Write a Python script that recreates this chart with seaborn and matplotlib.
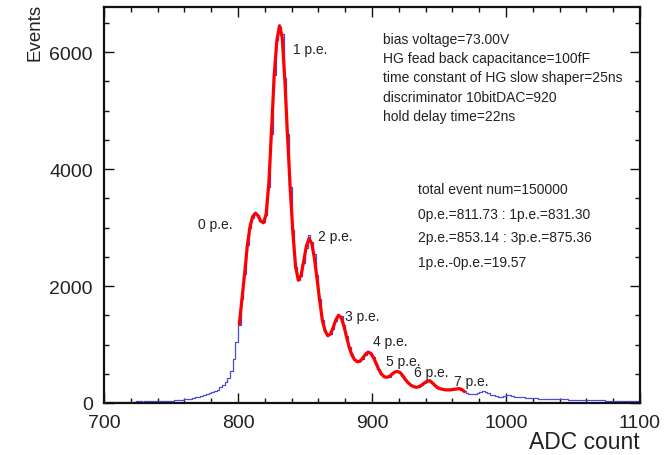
import numpy as np
import pandas as pd
import matplotlib
matplotlib.use("Agg")
import matplotlib.pyplot as plt
from matplotlib.ticker import MultipleLocator
import seaborn as sns

# ---------------- data ----------------
bin_edges = list(range(700, 1101, 2))
bin_centers = [e + 1 for e in bin_edges[:-1]]
counts = [
    18, 20, 17, 22, 19, 21, 20, 23, 22, 25,           # 701-719
    24, 22, 26, 27, 25, 28, 30, 29, 32, 31,           # 721-739
    33, 35, 38, 36, 40, 42, 45, 48, 52, 56,           # 741-759
    62, 68, 76, 85, 96, 108, 120, 135, 150, 170,      # 761-779
    190, 205, 225, 265, 300, 365, 430, 540, 760, 1050,  # 781-799
    1330, 1780, 2200, 2700, 3000, 3170, 3240, 3210, 3120, 3090,  # 801-819
    3220, 3700, 4600, 5600, 6200, 6430, 6300, 5550, 4600, 3700,  # 821-839
    2950, 2330, 2110, 2170, 2400, 2650, 2870, 2760, 2550, 2180,  # 841-859
    1780, 1420, 1240, 1160, 1180, 1270, 1400, 1490, 1480, 1340,  # 861-879
    1150, 960, 830, 760, 710, 710, 750, 820, 870, 860,           # 881-899
    790, 690, 580, 500, 450, 440, 450, 490, 525, 540,            # 901-919
    525, 470, 400, 345, 310, 285, 270, 280, 310, 345,            # 921-939
    375, 390, 340, 295, 260, 245, 235, 228, 226, 228,            # 941-959
    232, 240, 245, 225, 200, 170, 155, 150, 160, 175,            # 961-979
    190, 200, 190, 165, 140, 130, 125, 110, 105, 115,            # 981-999
    130, 140, 125, 110, 100, 95, 100, 90, 85, 80,                # 1001-1019
    82, 80, 75, 72, 70, 72, 68, 66, 68, 65,                      # 1021-1039
    62, 60, 62, 58, 56, 58, 55, 54, 52, 50,                      # 1041-1059
    52, 48, 47, 46, 45, 44, 45, 42, 41, 40,                      # 1061-1079
    40, 38, 36, 35, 35, 34, 33, 32, 32, 30,                      # 1081-1099
]

fit_x = list(range(801, 971, 2))
fit_y = [
    1350, 1790, 2220, 2700, 3020, 3190, 3245, 3200, 3110, 3080,  # 801-819
    3230, 3750, 4650, 5600, 6200, 6450, 6250, 5500, 4550, 3650,  # 821-839
    2900, 2330, 2100, 2180, 2420, 2680, 2810, 2730, 2480, 2120,  # 841-859
    1740, 1410, 1230, 1150, 1180, 1290, 1420, 1500, 1460, 1320,  # 861-879
    1130, 950, 820, 740, 705, 715, 765, 830, 870, 850,           # 881-899
    780, 680, 575, 495, 450, 440, 455, 495, 530, 540,            # 901-919
    520, 465, 400, 345, 305, 280, 268, 278, 305, 340,            # 921-939
    370, 380, 345, 300, 262, 243, 232, 226, 224, 226,            # 941-959
    232, 240, 246, 232, 195,                                     # 961-969
]

peak_labels = ["0 p.e.", "1 p.e.", "2 p.e.", "3 p.e.", "4 p.e.", "5 p.e.", "6 p.e.", "7 p.e."]
peak_label_x = [770, 841, 860, 880, 900.5, 910.5, 931, 961]
peak_label_y = [3060, 6050, 2855, 1487, 1065, 723, 524, 381]

info_lines_1 = [
    "bias voltage=73.00V",
    "HG fead back capacitance=100fF",
    "time constant of HG slow shaper=25ns",
    "discriminator 10bitDAC=920",
    "hold delay time=22ns",
]
info_y_1 = [6222, 5897, 5573, 5231, 4906]
info_lines_2 = [
    "total event num=150000",
    "0p.e.=811.73 : 1p.e.=831.30",
    "2p.e.=853.14 : 3p.e.=875.36",
    "1p.e.-0p.e.=19.57",
]
info_y_2 = [3658, 3231, 2838, 2410]

# ---------------- plot ----------------
sns.set_theme(style="ticks")
plt.rcParams["font.family"] = ["Liberation Sans", "DejaVu Sans"]

fig = plt.figure(figsize=(6.67, 4.56), dpi=100)
ax = fig.add_axes([104 / 667, 52 / 456, 536 / 667, 396 / 456])

hist_df = pd.DataFrame({"adc": bin_centers, "n": counts})
sns.histplot(data=hist_df, x="adc", weights="n", bins=bin_edges, element="step",
             fill=False, color="#4b4bd6", linewidth=0.9, ax=ax)

fit_df = pd.DataFrame({"adc": fit_x, "fit": fit_y})
sns.lineplot(data=fit_df, x="adc", y="fit", color="#ff0000", linewidth=2.3, ax=ax)

ax.set_xlim(700, 1100)
ax.set_ylim(0, 6770)
ax.xaxis.set_major_locator(MultipleLocator(100))
ax.xaxis.set_minor_locator(MultipleLocator(20))
ax.yaxis.set_major_locator(MultipleLocator(2000))
ax.yaxis.set_minor_locator(MultipleLocator(500))
ax.tick_params(which="both", direction="in", top=True, right=True, color="#111111",
               labelsize=14, labelcolor="#222222")
ax.tick_params(which="major", length=7, width=1.0)
ax.tick_params(which="minor", length=3.5, width=1.0)
ax.tick_params(axis="x", which="major", pad=8)
ax.tick_params(axis="y", which="major", pad=8)
for sp in ax.spines.values():
    sp.set_linewidth(1.6)
    sp.set_color("#111111")
    sp.set_visible(True)

ax.set_xlabel("ADC count", fontsize=16.5, color="#222222", loc="right")
ax.xaxis.set_label_coords(1.0, -0.068)
ax.set_ylabel("Events", fontsize=13.5, color="#222222", loc="top")
ax.yaxis.set_label_coords(-0.112, 1.01)

for lab, x, y in zip(peak_labels, peak_label_x, peak_label_y):
    ax.text(x, y, lab, fontsize=10, color="#222222", va="center", ha="left")

for line, y in zip(info_lines_1, info_y_1):
    ax.text(908.2, y, line, fontsize=10, color="#222222", va="center", ha="left")
for line, y in zip(info_lines_2, info_y_2):
    ax.text(934.3, y, line, fontsize=10, color="#222222", va="center", ha="left")

fig.savefig("out.png", dpi=100)
